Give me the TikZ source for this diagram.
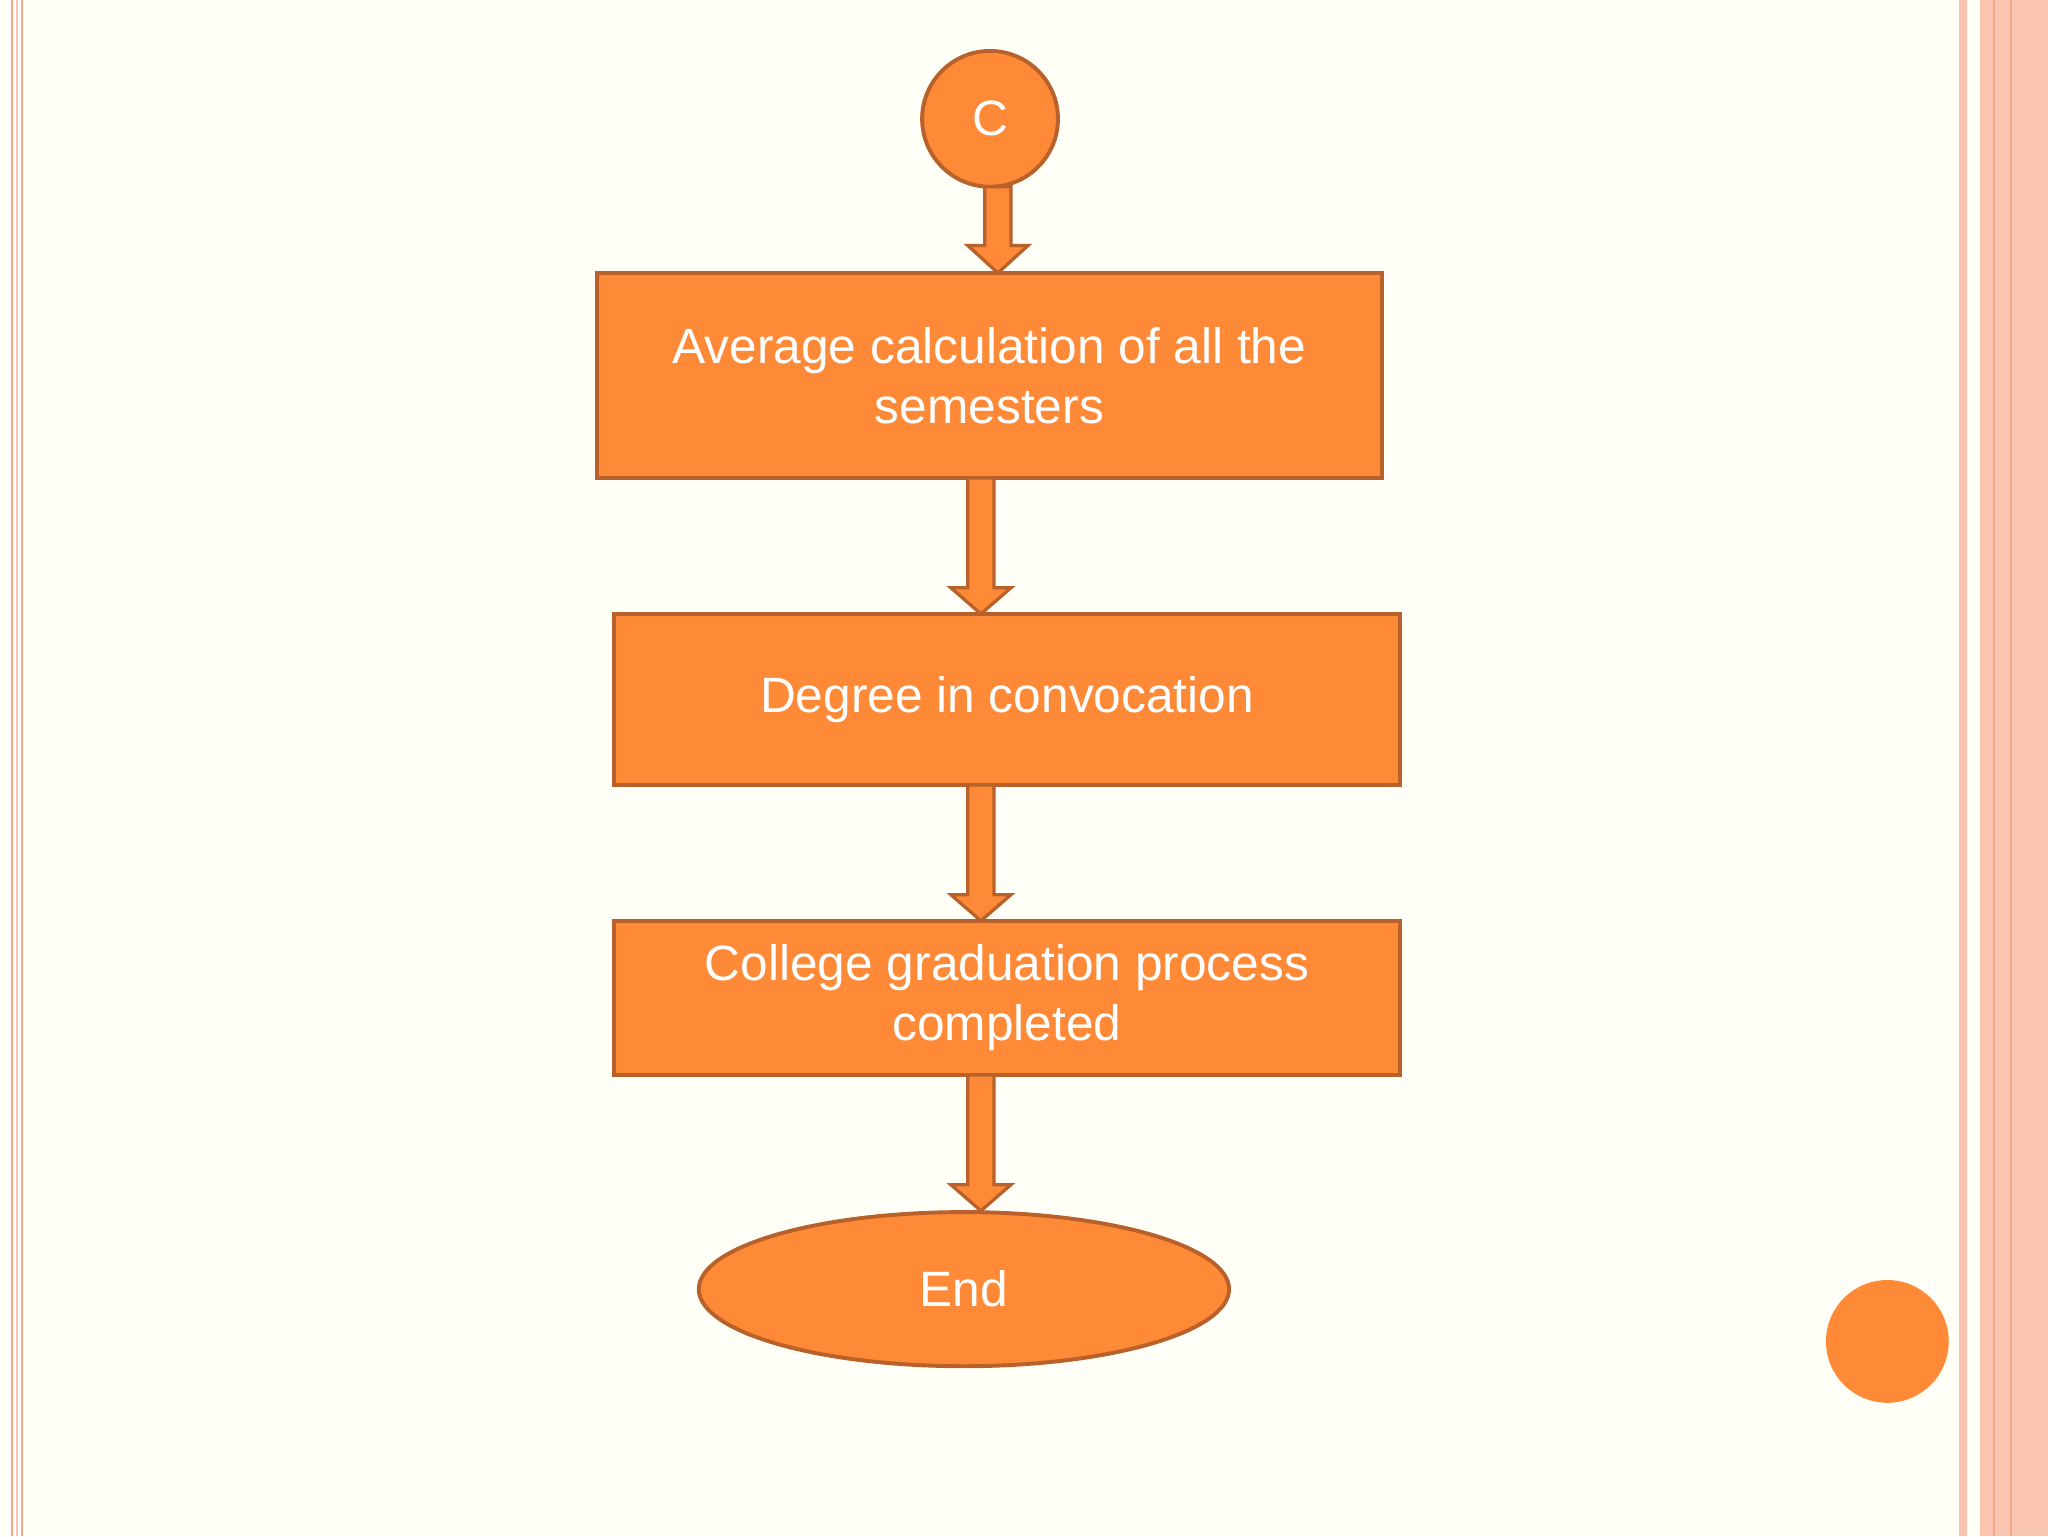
\documentclass[tikz,border=0pt]{standalone}
\usepackage{fontspec}
\setmainfont{Liberation Sans}
\usetikzlibrary{shapes.geometric}
\definecolor{org}{HTML}{FE8A38}
\definecolor{edge}{HTML}{B9612A}
\definecolor{pinkl}{HTML}{F9C5B0}
\definecolor{pinkd}{HTML}{F2A68A}
\tikzset{
  shp/.style={fill=org,draw=edge,line width=3pt,text=white,font=\fontsize{38}{46}\selectfont,align=center,inner sep=0pt},
  barrow/.style={fill=org,draw=edge,line width=2.5pt,line join=miter}
}
\newcommand{\blockarrow}[4]{% x, ytop, yheadstart, ytip
  \draw[barrow] (#1-10,#2) -- (#1+10,#2) -- (#1+10,#3) -- (#1+23,#3) -- (#1,#4) -- (#1-23,#3) -- (#1-10,#3) -- cycle;}
\begin{document}
\begin{tikzpicture}[x=1pt,y=-1pt]
\useasboundingbox[fill=white!97!yellow] (0,0) rectangle (1568,1176);
% left border lines
\draw[pinkd,line width=1.5pt] (9,0) -- (9,1176);
\draw[pinkl,line width=1.5pt] (13,0) -- (13,1176);
\draw[pinkd,line width=1.5pt] (17,0) -- (17,1176);
% right band
\fill[pinkl] (1500,0) rectangle (1506,1176);
\fill[pinkl] (1516,0) rectangle (1568,1176);
\draw[pinkd,line width=1.5pt] (1527,0) -- (1527,1176);
\draw[pinkd,line width=1.5pt] (1540,0) -- (1540,1176);
% decorative dot
\fill[org] (1445,1027) circle (47);
% nodes
\node[shp,circle,minimum size=104pt] (c) at (758,91) {C};
\node[shp,rectangle,minimum width=601pt,minimum height=157pt] (b1) at (757.5,287.5) {Average calculation of all the\\semesters};
\node[shp,rectangle,minimum width=602pt,minimum height=131pt] (b2) at (771,535.5) {Degree in convocation};
\node[shp,rectangle,minimum width=602pt,minimum height=118pt] (b3) at (771,764) {College graduation process\\completed};
\node[shp,ellipse,minimum width=406pt,minimum height=118pt] (e) at (738,987) {End};
% arrows
\blockarrow{764}{143}{188}{209}
\blockarrow{751}{366}{450}{470}
\blockarrow{751}{601}{685}{705}
\blockarrow{751}{823}{907}{927}
\end{tikzpicture}
\end{document}
